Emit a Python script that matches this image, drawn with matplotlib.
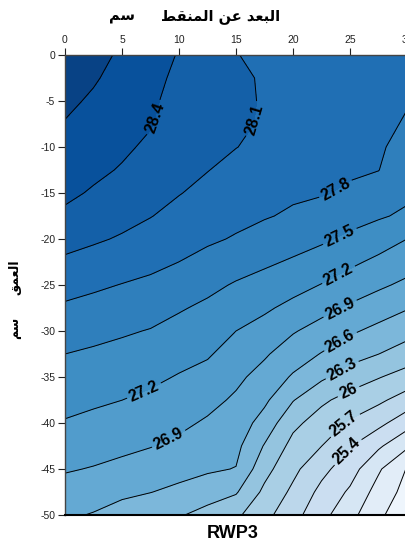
import numpy as np
import matplotlib
matplotlib.use("Agg")
import matplotlib.pyplot as plt

plt.rcParams["font.family"] = ["Liberation Sans", "DejaVu Sans"]
plt.rcParams["axes.unicode_minus"] = False

# distance from emitter (cm) and depth (cm)
distance = [0, 2.5, 5, 7.5, 10, 12.5, 15, 17.5, 20, 22.5, 25, 27.5, 30]
depth = [0, -2.5, -5, -7.5, -10, -12.5, -15, -17.5, -20, -22.5, -25,
         -27.5, -30, -32.5, -35, -37.5, -40, -42.5, -45, -47.5, -50]

# soil temperature, one row per depth
temp = [
    [28.87, 28.80, 28.652, 28.518, 28.383, 28.244, 28.106, 28.06, 28.018, 27.976, 27.934, 27.892, 27.85],
    [28.82, 28.73, 28.60, 28.484, 28.338, 28.217, 28.156, 28.07, 28.01, 27.97, 27.93, 27.89, 27.835],
    [28.76, 28.659, 28.547, 28.45, 28.292, 28.189, 28.165, 28.075, 27.995, 27.955, 27.92, 27.88, 27.815],
    [28.685, 28.591, 28.495, 28.416, 28.247, 28.162, 28.151, 28.07, 27.975, 27.935, 27.905, 27.86, 27.777],
    [28.607, 28.522, 28.442, 28.356, 28.202, 28.134, 28.105, 28.04, 27.95, 27.91, 27.88, 27.835, 27.704],
    [28.53, 28.453, 28.38, 28.274, 28.156, 28.107, 28.027, 27.967, 27.895, 27.87, 27.835, 27.805, 27.631],
    [28.453, 28.373, 28.28, 28.191, 28.111, 28.029, 27.948, 27.894, 27.84, 27.82, 27.76, 27.674, 27.558],
    [28.352, 28.255, 28.181, 28.109, 28.017, 27.934, 27.868, 27.82, 27.762, 27.689, 27.606, 27.532, 27.45],
    [28.202, 28.136, 28.073, 27.991, 27.908, 27.84, 27.778, 27.695, 27.616, 27.544, 27.443, 27.337, 27.2],
    [28.052, 27.995, 27.932, 27.869, 27.799, 27.716, 27.624, 27.545, 27.467, 27.373, 27.256, 27.135, 27.026],
    [27.902, 27.846, 27.791, 27.743, 27.662, 27.571, 27.473, 27.395, 27.3, 27.19, 27.06, 26.949, 26.838],
    [27.759, 27.711, 27.662, 27.614, 27.526, 27.445, 27.336, 27.244, 27.121, 26.988, 26.858, 26.74, 26.618],
    [27.629, 27.581, 27.533, 27.486, 27.408, 27.337, 27.2, 27.09, 26.924, 26.787, 26.643, 26.521, 26.403],
    [27.5, 27.46, 27.419, 27.372, 27.294, 27.229, 27.081, 26.935, 26.749, 26.586, 26.42, 26.302, 26.161],
    [27.394, 27.353, 27.31, 27.258, 27.181, 27.109, 26.962, 26.794, 26.566, 26.352, 26.158, 26.017, 25.88],
    [27.289, 27.245, 27.201, 27.143, 27.071, 26.984, 26.857, 26.657, 26.316, 26.054, 25.892, 25.758, 25.57],
    [27.18, 27.13, 27.082, 27.027, 26.961, 26.863, 26.766, 26.481, 26.072, 25.866, 25.663, 25.482, 25.22],
    [27.053, 27.008, 26.963, 26.911, 26.838, 26.751, 26.676, 26.279, 25.906, 25.703, 25.417, 25.148, 24.845],
    [26.925, 26.884, 26.827, 26.76, 26.697, 26.638, 26.59, 26.1, 25.773, 25.484, 25.231, 24.84, 24.485],
    [26.787, 26.732, 26.671, 26.606, 26.536, 26.448, 26.329, 25.935, 25.64, 25.321, 25.055, 24.685, 24.4],
    [26.645, 26.581, 26.457, 26.411, 26.329, 26.189, 26.056, 25.788, 25.507, 25.192, 24.896, 24.553, 24.32],
]

levels = [24.2, 24.5, 24.8, 25.1, 25.4, 25.7, 26.0, 26.3, 26.6, 26.9,
          27.2, 27.5, 27.8, 28.1, 28.4, 28.7, 29.0]

# where the inline labels sit (x, depth); each one goes on the nearest line
label_pos = [(8.4, -7.0), (16.5, -7.0), (23.9, -14.9), (24.3, -20.2),
             (24.0, -23.9), (7.0, -36.7), (24.1, -27.5), (9.2, -42.0),
             (24.1, -31.0), (24.3, -34.2), (24.8, -36.4), (24.4, -40.0),
             (24.6, -42.9)]

# Arabic glyphs are given pre-shaped (presentation forms, display order),
# since matplotlib does not do Arabic shaping on its own
x_title = ("\uFEC2\uFED8\uFEE8\uFEE4\uFEDF\uFE8D" + " " + "\uFEE6\uFECB" + " "
           + "\uFEAA\uFECC\uFE92\uFEDF\uFE8D")
unit_cm = "\uFEE2\uFEB3"
y_title = "\uFED6\uFEE4\uFECC\uFEDF\uFE8D"

X, Y = np.meshgrid(distance, depth)
Z = np.array(temp)

fig = plt.figure(figsize=(4.06, 5.47), dpi=100)
ax = fig.add_axes([65 / 406, 32 / 547, 342 / 406, 460 / 547])

ax.contourf(X, Y, Z, levels=levels, cmap="Blues", vmin=24.1, vmax=29.2)
cs = ax.contour(X, Y, Z, levels=levels, colors="black", linewidths=0.7)

with plt.rc_context({"font.weight": "bold"}):
    ax.clabel(cs, inline=True, fmt="%g", fontsize=11.5,
              manual=label_pos, inline_spacing=3)

ax.set_xlim(0, 30)
ax.set_ylim(-50, 0)
ax.set_xticks([0, 5, 10, 15, 20, 25, 30])
ax.set_yticks(list(range(0, -55, -5)))
ax.xaxis.tick_top()
ax.tick_params(direction="out", length=5, width=0.8, labelsize=7.5,
               colors="#222222", pad=2)
ax.tick_params(axis="x", bottom=False)
for side in ["left", "top"]:
    ax.spines[side].set_color("#444444")
    ax.spines[side].set_linewidth(1.0)
ax.spines["bottom"].set_color("black")
ax.spines["bottom"].set_linewidth(1.5)
ax.spines["right"].set_visible(False)

fig.text(221 / 406, 1 - 17 / 547, x_title, ha="center", va="center",
         fontsize=10.5, fontweight="bold", family="DejaVu Sans")
fig.text(122 / 406, 1 - 17 / 547, unit_cm, ha="center", va="center",
         fontsize=10.5, fontweight="bold", family="DejaVu Sans")
fig.text(15 / 406, 1 - 277 / 547, y_title, ha="center", va="center",
         rotation=90, fontsize=9, fontweight="bold", family="DejaVu Sans")
fig.text(15 / 406, 1 - 328 / 547, unit_cm, ha="center", va="center",
         rotation=90, fontsize=9, fontweight="bold", family="DejaVu Sans")

fig.text(233 / 406, 1 - 533 / 547, "RWP3", ha="center", va="center",
         fontsize=13, fontweight="bold")

fig.savefig("out.png", dpi=100)
